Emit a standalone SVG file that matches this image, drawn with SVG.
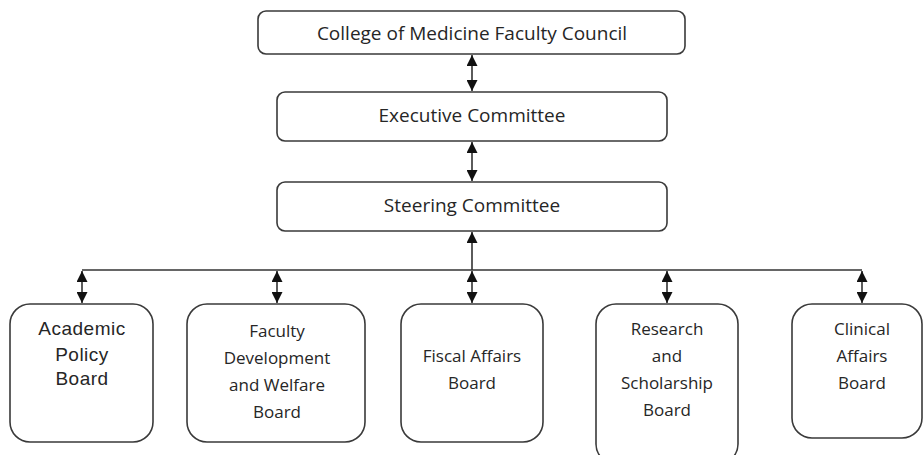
<svg xmlns="http://www.w3.org/2000/svg" width="924" height="455" viewBox="0 0 924 455">
<style>
.box{fill:#fff;stroke:#3a3a3a;stroke-width:1.6}
.t{font-family:"Open Sans","Noto Sans",sans-serif;font-size:17px;fill:#262626;text-anchor:middle}
.h{font-size:19px}
.a{font-family:"Liberation Sans",Arial,sans-serif;font-size:19px;letter-spacing:0.5px;fill:#262626;text-anchor:middle}
.c{stroke:#333;stroke-width:1.6;fill:none}
</style>
<defs>
<marker id="ah" viewBox="0 0 10 10" refX="10" refY="5" markerWidth="11" markerHeight="11" markerUnits="userSpaceOnUse" orient="auto-start-reverse">
<path d="M0,0 L10,5 L0,10 z" fill="#111"/>
</marker>
</defs>
<g id="connectors">
<line class="c" x1="472" y1="55" x2="472" y2="91" marker-start="url(#ah)" marker-end="url(#ah)"/>
<line class="c" x1="472" y1="142" x2="472" y2="181" marker-start="url(#ah)" marker-end="url(#ah)"/>
<line class="c" x1="472" y1="232" x2="472" y2="270" marker-start="url(#ah)"/>
<line class="c" x1="82" y1="270" x2="862" y2="270"/>
<line class="c" x1="82" y1="271" x2="82" y2="303" marker-start="url(#ah)" marker-end="url(#ah)"/>
<line class="c" x1="277" y1="271" x2="277" y2="303" marker-start="url(#ah)" marker-end="url(#ah)"/>
<line class="c" x1="472" y1="271" x2="472" y2="303" marker-start="url(#ah)" marker-end="url(#ah)"/>
<line class="c" x1="667" y1="271" x2="667" y2="303" marker-start="url(#ah)" marker-end="url(#ah)"/>
<line class="c" x1="862" y1="271" x2="862" y2="303" marker-start="url(#ah)" marker-end="url(#ah)"/>
</g>
<g id="council">
<rect class="box" x="258" y="11" width="427" height="43" rx="8"/>
<text class="t h" x="472" y="40">College of Medicine Faculty Council</text>
</g>
<g id="executive">
<rect class="box" x="277" y="92" width="390" height="49" rx="8"/>
<text class="t h" x="472" y="122">Executive Committee</text>
</g>
<g id="steering">
<rect class="box" x="277" y="182" width="390" height="49" rx="8"/>
<text class="t h" x="472" y="212">Steering Committee</text>
</g>
<g id="academic">
<rect class="box" x="10" y="304" width="143" height="138" rx="20"/>
<text class="a" x="82" y="335">Academic</text>
<text class="a" x="82" y="361">Policy</text>
<text class="a" x="82" y="385">Board</text>
</g>
<g id="faculty">
<rect class="box" x="187" y="304" width="178" height="138" rx="20"/>
<text class="t" x="277" y="337">Faculty</text>
<text class="t" x="277" y="364">Development</text>
<text class="t" x="277" y="391">and Welfare</text>
<text class="t" x="277" y="418">Board</text>
</g>
<g id="fiscal">
<rect class="box" x="401" y="304" width="142" height="138" rx="20"/>
<text class="t" x="472" y="362">Fiscal Affairs</text>
<text class="t" x="472" y="389">Board</text>
</g>
<g id="research">
<rect class="box" x="596" y="304" width="142" height="160" rx="20"/>
<text class="t" x="667" y="335">Research</text>
<text class="t" x="667" y="362">and</text>
<text class="t" x="667" y="389">Scholarship</text>
<text class="t" x="667" y="416">Board</text>
</g>
<g id="clinical">
<rect class="box" x="792" y="304" width="130" height="134" rx="20"/>
<text class="t" x="862" y="335">Clinical</text>
<text class="t" x="862" y="362">Affairs</text>
<text class="t" x="862" y="389">Board</text>
</g>
</svg>
